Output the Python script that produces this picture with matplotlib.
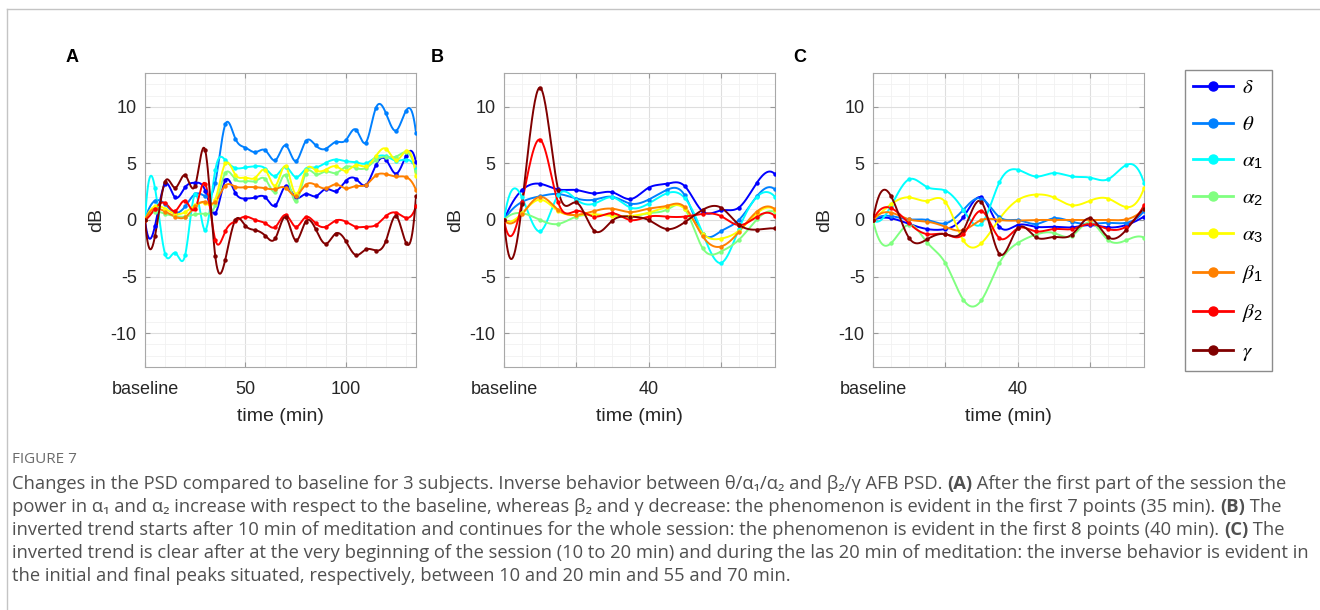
import numpy as np
import matplotlib.pyplot as plt
from matplotlib.lines import Line2D

plt.rcParams['font.family'] = ['Liberation Sans', 'DejaVu Sans']
plt.rcParams['mathtext.fontset'] = 'custom'
plt.rcParams['mathtext.rm'] = 'Liberation Sans'
plt.rcParams['mathtext.it'] = 'STIXGeneral:italic'

W, H = 1320, 610

# band names and jet(8) colours
bands = [r'$\delta$', r'$\theta$', r'$\alpha_1$', r'$\alpha_2$', r'$\alpha_3$',
         r'$\beta_1$', r'$\beta_2$', r'$\gamma$']
colors = ['#0000ff', '#0080ff', '#00ffff', '#80ff80', '#ffff00', '#ff8000',
          '#ff0000', '#800000']

step = 5  # minutes between PSD estimates

# subject A, 0..135 min
delta_A = [0, -0.5, 3.2, 2.0, 2.9, 3.3, 2.6, 0.6, 3.5, 2.4, 1.9, 2.0, 2.0, 1.3,
           3.0, 2.0, 2.3, 2.1, 2.75, 2.55, 3.45, 3.65, 3.1, 4.85, 5.35, 4.1, 5.65, 5.1]
theta_A = [0, 1.7, 1.4, 0.65, 1.2, 2.3, 2.1, 3.3, 8.45, 7.2, 6.4, 6.0, 6.15, 5.3,
           6.6, 5.2, 6.95, 6.6, 6.3, 6.9, 7.05, 8.0, 6.85, 9.9, 9.45, 7.9, 9.65, 7.7]
alpha1_A = [0, 2.8, -3.0, -2.9, -3.1, 2.3, -0.9, 4.4, 5.3, 4.6, 4.65, 4.75, 4.55, 3.9,
            4.7, 3.8, 4.5, 4.65, 5.05, 5.35, 5.2, 5.1, 5.0, 5.55, 5.65, 5.25, 5.35, 4.55]
alpha2_A = [0, 0.75, 0.55, 0.35, 0.3, 0.5, 0.55, 1.3, 4.15, 3.6, 3.45, 3.45, 3.6, 2.5,
            3.95, 1.65, 4.1, 4.05, 4.3, 4.15, 4.7, 4.6, 4.6, 5.3, 5.6, 5.6, 6.0, 4.3]
alpha3_A = [0, 1.2, 1.0, 0.55, 0.7, 1.3, 1.5, 1.8, 5.0, 4.0, 3.75, 3.75, 4.4, 3.05,
            4.75, 2.3, 4.4, 4.4, 4.45, 4.75, 4.35, 4.85, 4.75, 5.65, 6.3, 5.3, 6.1, 3.85]
beta1_A = [0, 1.0, 0.75, 0.3, 0.25, 1.2, 1.6, 1.6, 3.05, 2.95, 2.9, 2.9, 2.8, 2.75,
           2.85, 2.15, 3.1, 3.1, 2.8, 3.15, 2.8, 3.0, 3.1, 3.95, 4.05, 3.85, 3.8, 2.65]
beta2_A = [0, 1.0, 1.5, 0.8, 1.7, 1.0, 3.2, -1.75, -1.0, -0.1, 0.3, 0.0, -0.3, -0.6,
           0.45, -0.6, 0.25, -0.3, -0.6, -0.05, -0.15, -0.6, -0.6, -0.45, 0.35, 0.65, 0.2, 1.2]
gamma_A = [0, -1.4, 3.4, 2.85, 3.95, 3.05, 6.15, -3.2, -3.5, 0.0, -0.5, -0.9, -1.4, -1.6,
           0.25, -1.8, -0.15, -0.8, -2.1, -1.2, -1.85, -3.1, -2.6, -2.7, -1.85, 0.35, -2.0, 2.1]

# subject B, 0..75 min
delta_B = [0, 2.65, 3.2, 2.7, 2.65, 2.35, 2.45, 1.85, 2.85, 3.2, 3.0, 0.75, 0.85, 1.1, 3.3, 4.05]
theta_B = [0, 1.6, 2.1, 2.3, 1.9, 1.8, 2.05, 1.45, 1.8, 2.65, 2.2, -1.2, -1.0, 0.0, 2.1, 2.7]
alpha1_B = [0, 2.0, -1.0, 2.2, 1.8, 1.45, 2.0, 1.1, 1.45, 2.35, 1.95, -1.2, -3.8, -0.8, 2.05, 2.05]
alpha2_B = [0, 0.6, 0.0, -0.35, 0.3, 0.45, 0.45, 0.3, 0.6, 0.9, 1.0, -2.5, -2.8, -1.75, 0.05, 0.7]
alpha3_B = [0, 0.6, 1.8, 0.8, 0.45, 0.5, 0.35, 0.35, 0.65, 1.15, 1.0, -1.2, -1.65, -0.95, 0.6, 0.9]
beta1_B = [0, 0.5, 2.05, 0.9, 0.45, 0.8, 1.0, 0.7, 1.0, 1.25, 1.15, -1.45, -2.35, -1.05, 0.75, 0.95]
beta2_B = [0, 1.6, 7.1, 1.55, 0.8, 0.3, 0.6, 0.0, 0.3, 0.3, 0.3, 0.55, 0.35, -0.45, 0.3, 0.35]
gamma_B = [0, 1.4, 11.7, 2.65, 1.55, -0.95, -0.05, 0.3, 0.0, -0.8, -0.2, 0.9, 1.1, -0.4, -0.85, -0.75]

# subject C, 0..75 min
delta_C = [0, 0.15, -0.35, -0.8, -0.8, 0.25, 2.0, -0.6, -0.45, -0.6, -0.6, -0.65, -0.45, -0.65, -0.45, 0.3]
theta_C = [0, 0.35, 0.05, 0.0, -0.3, 0.9, 1.9, 0.25, 0.0, -0.35, 0.15, -0.15, -0.35, -0.25, -0.25, 0.8]
alpha1_C = [0, 1.25, 3.6, 2.9, 2.6, 0.9, -0.35, 3.35, 4.45, 3.85, 4.15, 3.85, 3.75, 3.6, 4.85, 3.3]
alpha2_C = [0, -2.05, -0.4, -2.0, -3.8, -7.05, -7.1, -3.8, -2.05, -1.3, -1.15, -1.4, -0.2, -1.75, -1.8, -1.55]
alpha3_C = [0, 1.4, 2.0, 1.7, 1.6, -1.8, -2.05, 0.1, 1.75, 2.25, 2.0, 1.3, 1.7, 1.9, 1.15, 2.8]
beta1_C = [0, 0.65, 0.05, -0.15, -0.6, -0.9, 0.0, 0.0, -0.05, 0.0, 0.0, 0.0, 0.0, 0.0, 0.05, 1.0]
beta2_C = [0, 1.05, -0.3, -1.25, -1.25, -1.25, 0.8, -1.6, -0.75, -1.0, -0.8, -0.8, -0.35, -0.8, -0.6, 1.3]
gamma_C = [0, 2.1, -1.6, -1.7, -1.25, -0.9, 1.6, -3.0, -0.75, -1.5, -1.5, -1.3, 0.15, -1.5, -0.9, 1.0]

subjects = {
    'A': [delta_A, theta_A, alpha1_A, alpha2_A, alpha3_A, beta1_A, beta2_A, gamma_A],
    'B': [delta_B, theta_B, alpha1_B, alpha2_B, alpha3_B, beta1_B, beta2_B, gamma_B],
    'C': [delta_C, theta_C, alpha1_C, alpha2_C, alpha3_C, beta1_C, beta2_C, gamma_C],
}
xticks = {'A': [0, 50, 100], 'B': [0, 20, 40, 60], 'C': [0, 20, 40, 60]}
xticklabels = {'A': ['baseline', '50', '100'], 'B': ['baseline', '', '40', ''],
               'C': ['baseline', '', '40', '']}
xminor = {'A': 10, 'B': 5, 'C': 5}
axes_left = {'A': 145, 'B': 504, 'C': 873}
label_x = {'A': 72, 'B': 437, 'C': 800}


def spline_curve(y, dx, n_sub=24):
    # not-a-knot cubic spline on an evenly spaced grid
    y = np.asarray(y, float)
    n = len(y)
    A = np.zeros((n, n))
    b = np.zeros(n)
    A[0, :3] = [1, -2, 1]
    A[-1, -3:] = [1, -2, 1]
    for i in range(1, n - 1):
        A[i, i - 1:i + 2] = [1, 4, 1]
        b[i] = 6 * (y[i + 1] - 2 * y[i] + y[i - 1])
    M = np.linalg.solve(A, b)
    t = np.linspace(0, 1, n_sub, endpoint=False)
    u = 1 - t
    xs, ys = [], []
    for i in range(n - 1):
        s = u * y[i] + t * y[i + 1] + (u ** 3 - u) * M[i] / 6 + (t ** 3 - t) * M[i + 1] / 6
        xs.append((i + t) * dx)
        ys.append(s)
    xs.append([(n - 1) * dx])
    ys.append([y[-1]])
    return np.concatenate(xs), np.concatenate(ys)


fig = plt.figure(figsize=(W / 100, H / 100), dpi=100)

for key, series in subjects.items():
    ax = fig.add_axes([axes_left[key] / W, (H - 367) / H, 271 / W, 294 / H])
    n = len(series[0])
    t = np.arange(n) * step
    for vals, c in zip(series, colors):
        xs, ys = spline_curve(vals, step)
        ax.plot(xs, ys, color=c, lw=1.4, zorder=3)
        ax.plot(t, vals, 'o', color=c, ms=3.2, mew=0, zorder=4)
    ax.set_xlim(0, t[-1])
    ax.set_ylim(-13, 13)
    ax.set_yticks([-10, -5, 0, 5, 10])
    ax.set_yticklabels(['-10', '-5', '0', '5', '10'])
    ax.set_xticks(xticks[key])
    ax.set_xticklabels(xticklabels[key])
    ax.set_xticks(np.arange(0, t[-1] + 0.1, xminor[key]), minor=True)
    ax.set_yticks(np.arange(-13, 14, 1), minor=True)
    ax.grid(True, which='major', color='#dedede', lw=0.8)
    ax.grid(True, which='minor', color='#f1f1f1', lw=0.6)
    ax.set_axisbelow(True)
    ax.tick_params(which='both', direction='in', top=True, right=True,
                   labelsize=13, colors='#999999', labelcolor='#262626', pad=6)
    ax.tick_params(axis='x', which='major', pad=10)
    ax.tick_params(which='major', length=3.5)
    ax.tick_params(which='minor', length=0)
    for sp in ax.spines.values():
        sp.set_color('#a8a8a8')
        sp.set_linewidth(0.8)
    ax.set_xlabel('time (min)', fontsize=14, color='#262626', labelpad=7)
    ax.set_ylabel('dB', fontsize=14, color='#262626', labelpad=4)
    fig.text(label_x[key] / W, 1 - 57 / H, key, fontsize=13, fontweight='bold',
             ha='center', va='center')

handles = [Line2D([], [], color=c, lw=2, marker='o', ms=6.5) for c in colors]
fig.legend(handles, bands, loc='upper left', bbox_to_anchor=(1185 / W, 1 - 70 / H),
           fancybox=False, edgecolor='#8c8c8c', framealpha=1, fontsize=15,
           handlelength=1.9, handletextpad=0.45, labelspacing=0.84, borderpad=0.4,
           borderaxespad=0)

# frame around the figure block
fig.add_artist(Line2D([7 / W, 1], [1 - 9 / H, 1 - 9 / H], color='#c4c4c4', lw=1))
fig.add_artist(Line2D([7 / W, 7 / W], [0, 1 - 9 / H], color='#c4c4c4', lw=1))

# caption
cap_font = ['Open Sans', 'DejaVu Sans']
cap_color = '#505050'
fig.text(12 / W, 1 - 463 / H, 'FIGURE 7', fontsize=11, color='#6b6b6b', family=cap_font)

caption = [
    [('Changes in the PSD compared to baseline for 3 subjects. Inverse behavior between '
      'θ/α₁/α₂ and β₂/γ AFB PSD. ', False), ('(A)', True),
     (' After the first part of the session the', False)],
    [('power in α₁ and α₂ increase with respect to the baseline, whereas β₂ and γ decrease: '
      'the phenomenon is evident in the first 7 points (35 min). ', False), ('(B)', True),
     (' The', False)],
    [('inverted trend starts after 10 min of meditation and continues for the whole session: '
      'the phenomenon is evident in the first 8 points (40 min). ', False), ('(C)', True),
     (' The', False)],
    [('inverted trend is clear after at the very beginning of the session (10 to 20 min) and '
      'during the las 20 min of meditation: the inverse behavior is evident in', False)],
    [('the initial and final peaks situated, respectively, between 10 and 20 min and 55 and '
      '70 min.', False)],
]
renderer = fig.canvas.get_renderer()
for i, parts in enumerate(caption):
    x = 12 / W
    y = 1 - (489 + 23 * i) / H
    for txt, bold in parts:
        tx = fig.text(x, y, txt, fontsize=13.2, color=cap_color, family=cap_font,
                      fontweight='bold' if bold else 'normal', va='baseline')
        x += tx.get_window_extent(renderer).width / W

fig.savefig('out.png', dpi=100)
